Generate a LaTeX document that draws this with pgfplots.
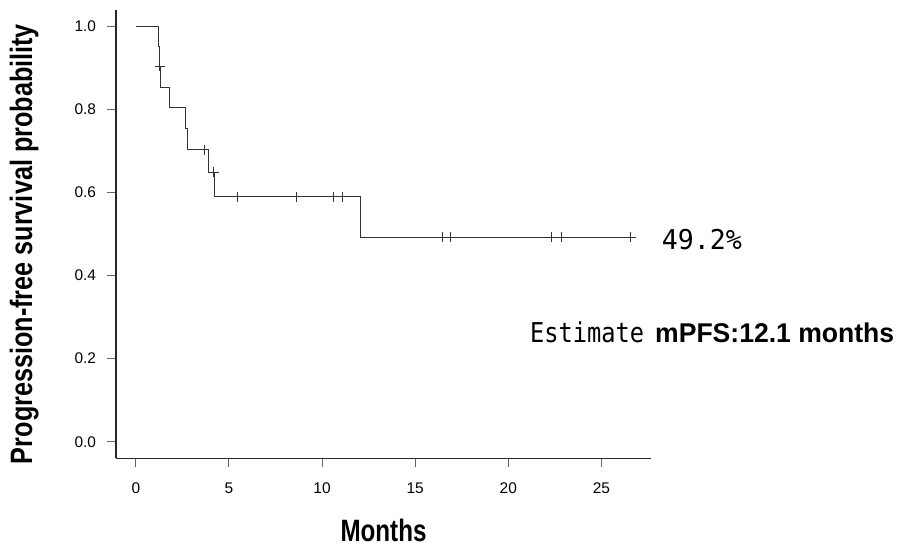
\documentclass[border=0pt]{standalone}
\usepackage{pgfplots}
\pgfplotsset{compat=1.18}
\usepackage{graphicx}
\usepackage{fontspec}
\setmainfont{Liberation Sans}
\newfontfamily\monofont{DejaVu Sans Mono}

\begin{document}
\begin{tikzpicture}
\path[use as bounding box] (0,0) rectangle (905bp,547bp);
\begin{axis}[
  at={(116bp,88.7bp)}, anchor=south west,
  scale only axis, width=535bp, height=448.3bp,
  xmin=-1.064, xmax=27.66, ymin=-0.04, ymax=1.04,
  axis lines=left,
  axis line style={-, line width=1.1bp, black!85},
  xtick={0,5,10,15,20,25},
  ytick={0,0.2,0.4,0.6,0.8,1.0},
  tick align=outside, major tick length=9bp,
  tick style={line width=0.9bp, black!60},
  /pgf/number format/assume math mode=true,
  tick label style={font=\fontsize{15.5}{18}\selectfont},
  xticklabel style={yshift=-12bp},
  yticklabel style={xshift=-7.5bp, /pgf/number format/fixed, /pgf/number format/fixed zerofill, /pgf/number format/precision=1},
  xlabel={\resizebox{86bp}{\height}{\fontsize{31}{36}\selectfont\bfseries Months}},
  xlabel style={at={(axis description cs:0.5,0)}, anchor=base, inner sep=0pt, yshift=-83bp},
  ylabel={\resizebox{440bp}{\height}{\fontsize{31}{36}\selectfont\bfseries Progression-free survival probability}},
  ylabel style={at={(axis description cs:-0.157,0.478)}, anchor=base, inner sep=0pt},
  clip=false,
]
\addplot[const plot, line width=0.9bp, black!80] coordinates {
(0,1) (1.235,0.9524) (1.27,0.9048) (1.33,0.8545) (1.79,0.8042) (2.69,0.7540)
(2.76,0.7037) (3.89,0.6496) (4.22,0.5905) (12.07,0.4921) (26.57,0.4921)};
\addplot[only marks, mark=+, mark size=5bp, black!80, mark options={line width=0.9bp}] coordinates {
(1.28,0.9048) (3.67,0.7037) (4.19,0.6496) (5.46,0.5905) (8.63,0.5905) (10.60,0.5905)
(11.10,0.5905) (16.45,0.4921) (16.90,0.4921) (22.33,0.4921) (22.86,0.4921) (26.57,0.4921)};
\end{axis}
\node[anchor=base west, inner sep=0pt] at (661.7bp,297bp)
  {\resizebox{80bp}{\height}{\monofont\fontsize{27.4}{30}\selectfont 49.2\%}};
\node[anchor=base west, inner sep=0pt] at (530bp,204.3bp)
  {\resizebox{114bp}{\height}{\monofont\fontsize{27.4}{30}\selectfont Estimate}};
\node[anchor=base west, inner sep=0pt] at (655bp,204.3bp)
  {\resizebox{239bp}{\height}{\fontsize{27.2}{30}\selectfont\bfseries mPFS:12.1 months}};
\end{tikzpicture}
\end{document}
